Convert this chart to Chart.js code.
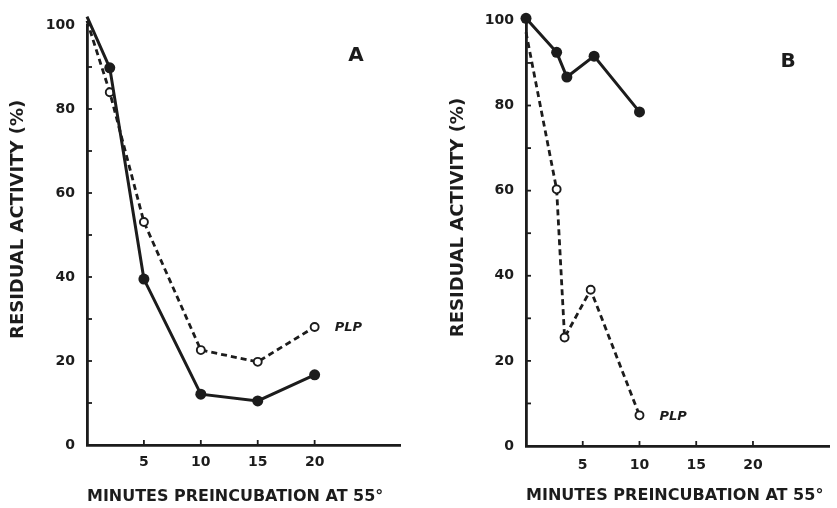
<!DOCTYPE html>
<html><head><meta charset="utf-8">
<script src="https://cdn.jsdelivr.net/npm/chart.js@4/dist/chart.umd.min.js"></script>
<style>
html,body{margin:0;padding:0;background:#fff;}
#wrap{position:relative;width:837px;height:508px;overflow:hidden;}
canvas{position:absolute;top:0;}
#ca{left:0;}
#cb{left:418px;}
</style></head><body>
<div id="wrap">
<canvas id="ca" width="418" height="508"></canvas>
<canvas id="cb" width="419" height="508"></canvas>
</div>
<script>
// ---- data ----
const xTickValues = [5, 10, 15, 20];
const yTickValues = [0, 20, 40, 60, 80, 100];

// Panel A
const minutesA = [0, 2, 5, 10, 15, 20];
const activityA = [102, 89.8, 39.5, 12.1, 10.5, 16.7];
const minutesA_PLP = [0, 2, 5, 10, 15, 20];
const activityA_PLP = [101, 84, 53.1, 22.6, 19.8, 28.1];

// Panel B
const minutesB = [0, 2.7, 3.6, 6, 10];
const activityB = [100.5, 92.5, 86.7, 91.6, 78.5];
const minutesB_PLP = [0, 2.7, 3.4, 5.7, 10];
const activityB_PLP = [97.2, 60.3, 25.5, 36.7, 7.2];

const xTitle = 'MINUTES PREINCUBATION AT 55°';
const yTitle = 'RESIDUAL ACTIVITY (%)';

const INK = '#1c1c1c';
const FONT = '"DejaVu Sans", "Liberation Sans", sans-serif';
const NB = '\u00a0';

function pts(xs, ys) { return xs.map((x, i) => ({x: x, y: ys[i]})); }

function decor(letter, lx, ly) {
  return {
    id: 'decor',
    afterDatasetsDraw(chart) {
      const {ctx, scales: {x, y}} = chart;
      ctx.save();
      ctx.strokeStyle = INK; ctx.lineWidth = 1.8;
      for (let v = 10; v <= 100; v += 10) {
        const py = y.getPixelForValue(v);
        ctx.beginPath(); ctx.moveTo(x.left + 1, py); ctx.lineTo(x.left + 5, py); ctx.stroke();
      }
      for (const v of xTickValues) {
        const px = x.getPixelForValue(v);
        ctx.beginPath(); ctx.moveTo(px, y.bottom - 1); ctx.lineTo(px, y.bottom - 5); ctx.stroke();
      }
      const meta = chart.getDatasetMeta(1);
      const last = meta.data[meta.data.length - 1];
      ctx.fillStyle = INK;
      ctx.font = 'italic bold 13px ' + FONT;
      ctx.textAlign = 'left'; ctx.textBaseline = 'middle';
      ctx.fillText('PLP', last.x + 20, last.y + 1);
      ctx.font = 'bold 20px ' + FONT;
      ctx.textAlign = 'center';
      ctx.fillText(letter, lx, ly);
      ctx.restore();
    }
  };
}

function makeChart(id, solid, dashed, opt) {
  const openRadius = dashed.map((p, i) => i === 0 ? 0 : 4);
  return new Chart(document.getElementById(id), {
    type: 'line',
    data: {
      datasets: [
        {
          data: solid, borderColor: INK, borderWidth: 3,
          pointRadius: 5.5, pointBackgroundColor: INK, pointBorderColor: INK, pointBorderWidth: 0,
          tension: 0, clip: false
        },
        {
          data: dashed, borderColor: INK, borderWidth: 2.8, borderDash: [6, 4],
          pointRadius: openRadius, pointBackgroundColor: '#fff', pointBorderColor: INK, pointBorderWidth: 1.9,
          tension: 0, clip: false
        }
      ]
    },
    options: {
      responsive: false, animation: false,
      layout: {padding: {left: 0, top: opt.top, right: opt.right, bottom: 0}},
      plugins: {legend: {display: false}, tooltip: {enabled: false}},
      scales: {
        x: {
          type: 'linear', position: 'bottom', min: 0, max: opt.xmax,
          afterBuildTicks: s => { s.ticks = xTickValues.map(v => ({value: v})); },
          afterFit: s => { s.height = opt.xh; },
          grid: {display: false, drawTicks: false},
          border: {display: true, color: INK, width: 2.8},
          ticks: {color: INK, font: {family: FONT, weight: 'bold', size: 14}, padding: opt.xpad, maxRotation: 0},
          title: {display: true, text: xTitle + NB.repeat(opt.xtrail), color: INK, font: {family: FONT, weight: 'bold', size: 16.5}, padding: {top: 0, bottom: opt.xtpad}}
        },
        y: {
          type: 'linear', min: 0, max: 100,
          afterBuildTicks: s => { s.ticks = yTickValues.map(v => ({value: v})); },
          afterFit: s => { s.width = opt.yw; },
          grid: {display: false, drawTicks: false},
          border: {display: true, color: INK, width: 2.8},
          ticks: {color: INK, font: {family: FONT, weight: 'bold', size: 14}, padding: 12},
          title: {display: true, text: NB.repeat(5) + yTitle, color: INK, font: {family: FONT, weight: 'bold', size: 18}, padding: {top: opt.ytpad, bottom: 0}}
        }
      }
    },
    plugins: [decor(opt.letter, opt.lx, opt.ly)]
  });
}

makeChart('ca', pts(minutesA, activityA), pts(minutesA_PLP, activityA_PLP),
  {top: 25, right: 18, xmax: 27.5, xh: 63, xpad: 9, xtpad: 1.1, xtrail: 3, yw: 87, ytpad: 7.2, letter: 'A', lx: 356, ly: 56});
makeChart('cb', pts(minutesB, activityB), pts(minutesB_PLP, activityB_PLP),
  {top: 18, right: 8, xmax: 26.7, xh: 62, xpad: 11, xtpad: 2.1, xtrail: 1, yw: 108, ytpad: 29.2, letter: 'B', lx: 370, ly: 62});
</script>
</body></html>
